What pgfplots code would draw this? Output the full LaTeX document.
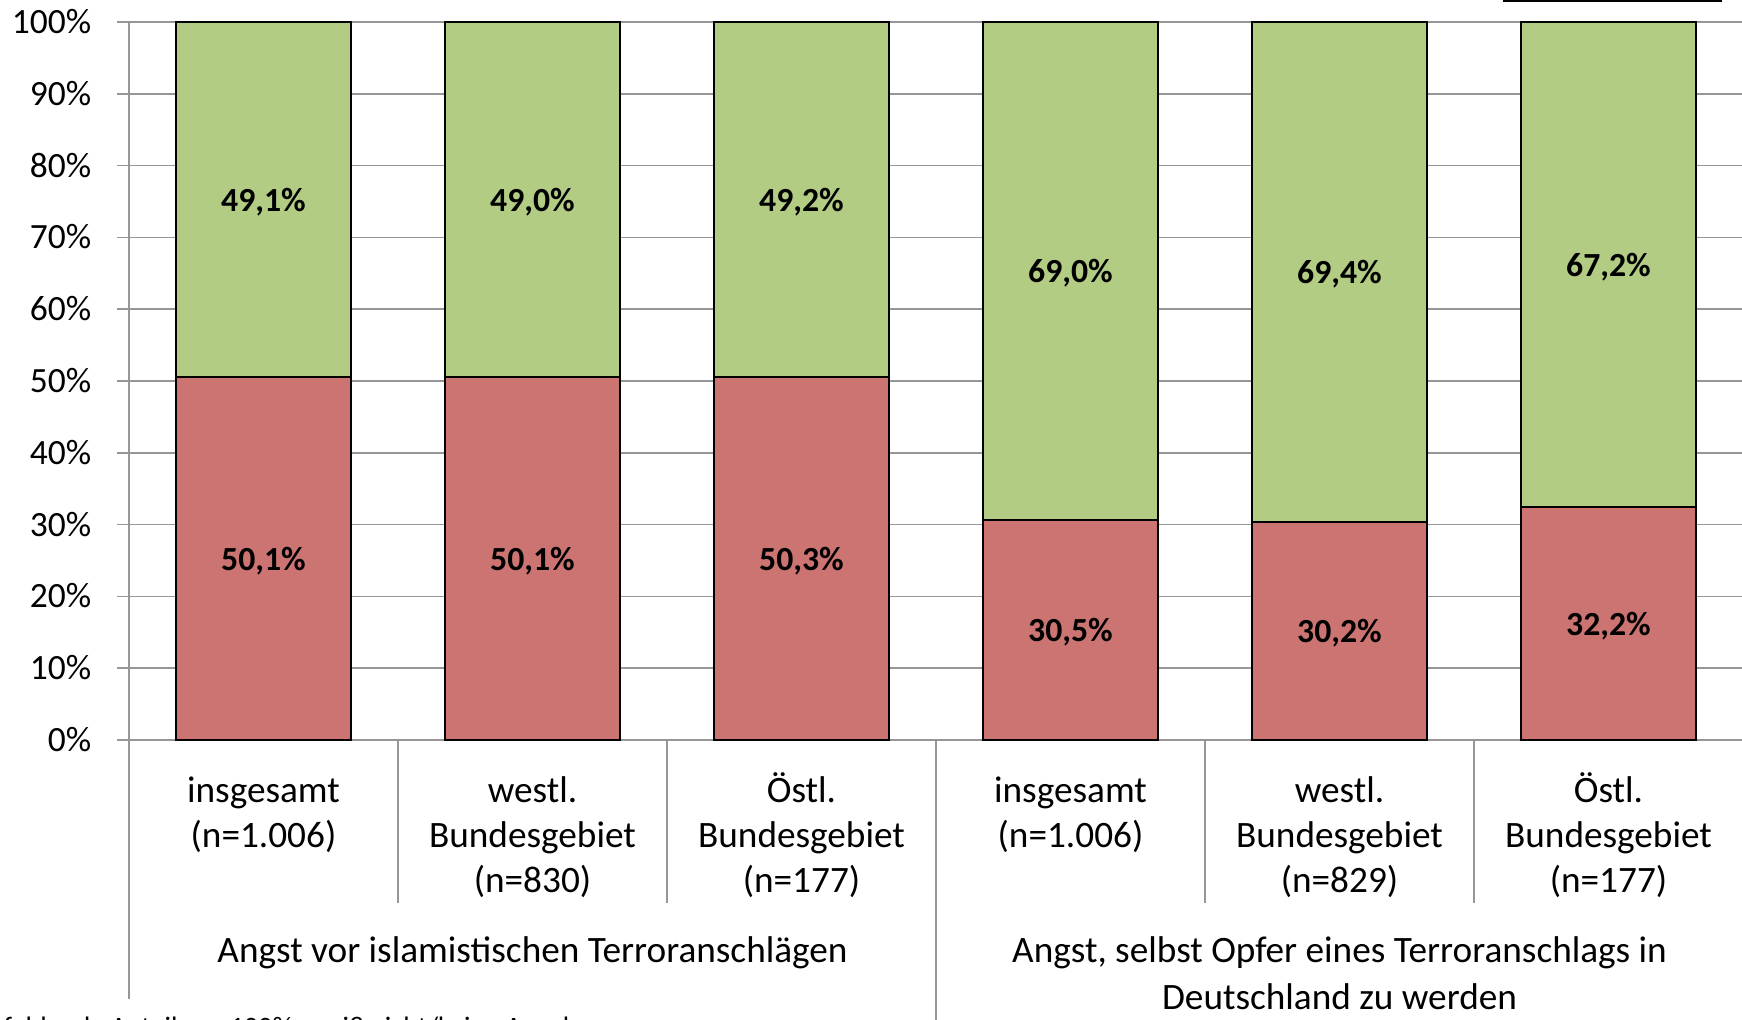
\documentclass[border=0pt]{standalone}
\usepackage{pgfplots}
\usepackage{pgfplotstable}
\pgfplotsset{compat=1.18}
\usepackage{fontspec}
\setmainfont{Carlito}
\definecolor{barred}{RGB}{204,116,113}
\definecolor{bargreen}{RGB}{179,204,131}
\definecolor{gridgray}{RGB}{150,150,150}
\pgfplotstableread{
x r g
0 50.1 49.1
1 50.1 49.0
2 50.3 49.2
3 30.5 69.0
4 30.2 69.4
5 32.2 67.2
}\datatable
\newcommand{\catfont}{\fontsize{10.6}{12.9}\selectfont}
\begin{document}
\begin{tikzpicture}[x=1mm,y=1mm]
\begin{axis}[
 at={(12.9mm,28mm)}, anchor=south west,
 scale only axis, width=161.4mm, height=71.8mm,
 xmin=-0.5, xmax=5.5, ymin=0, ymax=100,
 axis line style={draw=none},
 xtick=\empty,
 ytick={0,10,...,100}, yticklabels={},
 tick align=outside, major tick length=1.2mm,
 ytick style={draw=gridgray, line width=0.45pt},
 ymajorgrids, grid style={gridgray, line width=0.45pt},
 clip=false,
 nodes near coords style={anchor=center, inner sep=0pt, yshift=-0.7pt, font=\bfseries\fontsize{9.6}{11}\selectfont},
]
\addplot[ybar, bar width=17.5mm, bar shift=0pt, fill=bargreen, draw=black, line width=0.6pt]
  table[x=x, y expr=100*(\thisrow{r}+\thisrow{g})/(\thisrow{r}+\thisrow{g})] {\datatable};
\addplot[ybar, bar width=17.5mm, bar shift=0pt, fill=barred, draw=black, line width=0.6pt]
  table[x=x, y expr=100*\thisrow{r}/(\thisrow{r}+\thisrow{g})] {\datatable};
\addplot[draw=none, no markers, point meta=\thisrow{r},
  nodes near coords={\pgfmathprintnumber[fixed,fixed zerofill,precision=1,use comma,assume math mode=true]{\pgfplotspointmeta}\%}]
  table[x=x, y expr=50*\thisrow{r}/(\thisrow{r}+\thisrow{g})] {\datatable};
\addplot[draw=none, no markers, point meta=\thisrow{g},
  nodes near coords={\pgfmathprintnumber[fixed,fixed zerofill,precision=1,use comma,assume math mode=true]{\pgfplotspointmeta}\%}]
  table[x=x, y expr=50+50*\thisrow{r}/(\thisrow{r}+\thisrow{g})] {\datatable};
\end{axis}
% axis lines
\draw[gridgray, line width=0.45pt] (12.9,99.8) -- (12.9,2.1);
\foreach \k in {1,2,4,5} \draw[gridgray, line width=0.45pt] ({12.9+\k*26.9},28) -- ({12.9+\k*26.9},11.7);
\draw[gridgray, line width=0.45pt] (93.6,28) -- (93.6,-1);
% y tick labels
\foreach \v in {0,10,...,100}
  \node[anchor=base east, inner sep=0pt, font=\fontsize{10.1}{12}\selectfont] at (9.2,{28+0.718*\v-1.15}) {\v\%};
% category labels
\begin{scope}[every node/.style={anchor=base, inner sep=0pt, font=\catfont}]
\node at (26.35,21.75) {insgesamt};
\node at (26.35,17.25) {(n=1.006)};
\node at (53.25,21.75) {westl.};
\node at (53.25,17.25) {Bundesgebiet};
\node at (53.25,12.75) {(n=830)};
\node at (80.15,21.75) {Östl.};
\node at (80.15,17.25) {Bundesgebiet};
\node at (80.15,12.75) {(n=177)};
\node at (107.05,21.75) {insgesamt};
\node at (107.05,17.25) {(n=1.006)};
\node at (133.95,21.75) {westl.};
\node at (133.95,17.25) {Bundesgebiet};
\node at (133.95,12.75) {(n=829)};
\node at (160.85,21.75) {Östl.};
\node at (160.85,17.25) {Bundesgebiet};
\node at (160.85,12.75) {(n=177)};
\node at (53.25,5.7) {Angst vor islamistischen Terroranschlägen};
\node at (133.95,5.7) {Angst, selbst Opfer eines Terroranschlags in};
\node at (133.95,1.05) {Deutschland zu werden};
\end{scope}
\node[anchor=base west, inner sep=0pt, font=\fontsize{8}{9.6}\selectfont] at (0.3,-1.7) {fehlende Anteile zu 100\%: weiß nicht/keine Angabe};
\draw[black, line width=0.5pt] (150.3,101.9) -- (172.2,101.9);
\pgfresetboundingbox
\useasboundingbox (0,0) rectangle (174.2,102);
\end{tikzpicture}
\end{document}
